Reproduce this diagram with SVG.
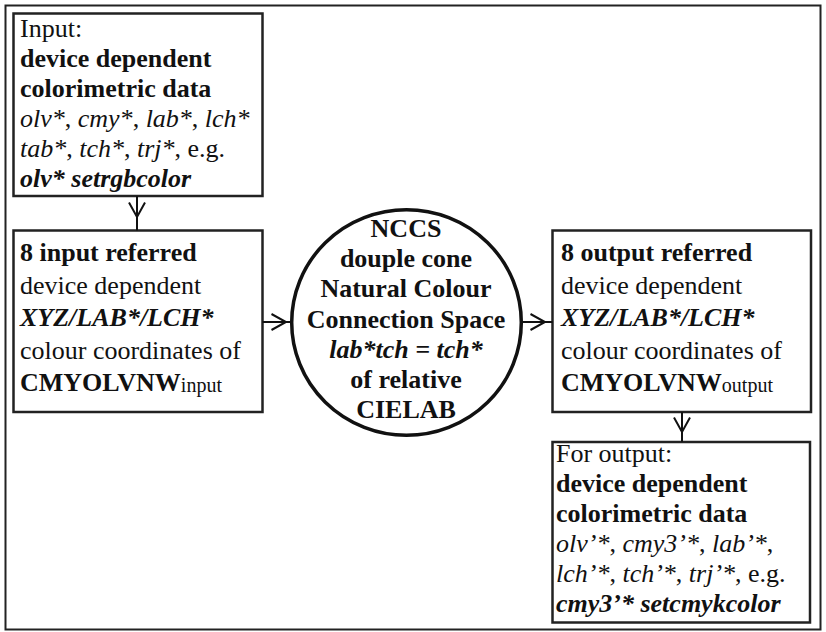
<svg xmlns="http://www.w3.org/2000/svg" width="826" height="632" viewBox="0 0 826 632" font-family="'Liberation Serif', 'Times New Roman', serif">
<style>
text{fill:#111;font-size:26px}
.b{font-weight:bold}
.i{font-style:italic}
.bi{font-weight:bold;font-style:italic}
.n{font-weight:normal;font-style:normal}
.sub{font-size:20px;font-weight:normal}
.box{fill:#fff;stroke:#222;stroke-width:2.5}
.frame{fill:#fff;stroke:#222;stroke-width:2}
.con{fill:none;stroke:#111;stroke-width:2;marker-mid:url(#v)}
.c{text-anchor:middle}
</style>
<defs>
<marker id="v" markerUnits="userSpaceOnUse" markerWidth="20" markerHeight="20" refX="15" refY="8" orient="auto" overflow="visible">
<path d="M0.5,0 L15,8 L0.5,16" fill="none" stroke="#111" stroke-width="2"/>
</marker>
</defs>
<rect class="frame" x="5.5" y="5.5" width="815" height="624"/>
<g id="input-data">
<rect class="box" x="13.5" y="13.5" width="249" height="182.5"/>
<text x="20" y="37">Input:</text>
<text x="20" y="67" class="b">device dependent</text>
<text x="20" y="97" class="b">colorimetric data</text>
<text x="20" y="127" class="i">olv*<tspan class="n">, </tspan>cmy*<tspan class="n">, </tspan>lab*<tspan class="n">, </tspan>lch*</text>
<text x="20" y="157" class="i">tab*<tspan class="n">, </tspan>tch*<tspan class="n">, </tspan>trj*<tspan class="n">, e.g.</tspan></text>
<text x="20" y="187" class="bi">olv* setrgbcolor</text>
</g>
<g id="input-referred">
<rect class="box" x="13.5" y="230.5" width="249" height="181.5"/>
<text x="20" y="261" class="b">8 input referred</text>
<text x="20" y="293.5">device dependent</text>
<text x="20" y="326" class="bi">XYZ/LAB*/LCH*</text>
<text x="20" y="358.5">colour coordinates of</text>
<text x="20" y="391" class="b">CMYOLVNW<tspan class="sub" dy="1">input</tspan></text>
</g>
<g id="nccs">
<ellipse cx="406.5" cy="322.5" rx="114.8" ry="112.8" fill="#fff" stroke="#111" stroke-width="3.5"/>
<text x="406" y="237" class="b c">NCCS</text>
<text x="406" y="267" class="b c">douple cone</text>
<text x="406" y="297" class="b c">Natural Colour</text>
<text x="406" y="328" class="b c">Connection Space</text>
<text x="406" y="358" class="bi c">lab*tch = tch*</text>
<text x="406" y="388" class="b c">of relative</text>
<text x="406" y="418" class="b c">CIELAB</text>
</g>
<g id="output-referred">
<rect class="box" x="552.5" y="230.5" width="258.5" height="181.5"/>
<text x="561" y="261" class="b">8 output referred</text>
<text x="561" y="293.5">device dependent</text>
<text x="561" y="326" class="bi">XYZ/LAB*/LCH*</text>
<text x="561" y="358.5">colour coordinates of</text>
<text x="561" y="391" class="b">CMYOLVNW<tspan class="sub" dy="1">output</tspan></text>
</g>
<g id="output-data">
<rect class="box" x="552.5" y="442" width="257.5" height="180.5"/>
<text x="556" y="462">For output:</text>
<text x="556" y="492" class="b">device dependent</text>
<text x="556" y="522" class="b">colorimetric data</text>
<text x="556" y="552" class="i">olv’*<tspan class="n">, </tspan>cmy3’*<tspan class="n">, </tspan>lab’*<tspan class="n">,</tspan></text>
<text x="556" y="582" class="i">lch’*<tspan class="n">, </tspan>tch’*<tspan class="n">, </tspan>trj’*<tspan class="n">, e.g.</tspan></text>
<text x="556" y="612" class="bi">cmy3’* setcmykcolor</text>
</g>
<g id="connectors">
<path class="con" d="M137,196 V217 V230.5"/>
<path class="con" d="M262.5,322 H286 H292"/>
<path class="con" d="M522,322 H545 H552.5"/>
<path class="con" d="M682,412 V432 V442"/>
</g>
</svg>
